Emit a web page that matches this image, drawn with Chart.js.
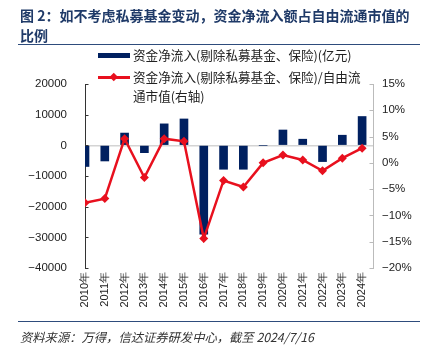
<!DOCTYPE html>
<html><head><meta charset="utf-8">
<script src="https://cdn.jsdelivr.net/npm/chart.js@4/dist/chart.umd.min.js"></script>
<style>
html,body{margin:0;padding:0;background:#fff;}
#wrap{position:relative;width:424px;height:355px;overflow:hidden;font-family:"Noto Sans CJK SC","Liberation Sans",sans-serif;}
#c{position:absolute;left:0;top:0;}
.t{position:absolute;white-space:nowrap;}
#title{left:20px;top:6px;font-size:14px;font-weight:bold;color:#1F3A68;line-height:19.5px;letter-spacing:0px;}
.hr{position:absolute;left:18px;width:402px;height:1.5px;background:#2E4C7C;}
.lg{font-size:12.6px;color:#222;line-height:19px;}
#src{left:20px;top:328px;font-size:12.3px;font-style:italic;color:#333;}
</style></head>
<body><div id="wrap">
<canvas id="c" width="424" height="355"></canvas>
<div class="t" id="title">图 2：如不考虑私募基金变动，资金净流入额占自由流通市值的<br>比例</div>
<div class="hr" style="top:43.5px"></div>
<div class="t" style="left:98px;top:53px;width:32px;height:5px;background:#002060"></div>
<div class="t lg" style="left:133px;top:45px">资金净流入(剔除私募基金、保险)(亿元)</div>
<div class="t" style="left:98px;top:76px;width:32px;height:2.5px;background:#E8101E"></div>
<div class="t" style="left:111px;top:74px;width:5.5px;height:5.5px;background:#E8101E;transform:rotate(45deg)"></div>
<div class="t lg" style="left:133px;top:67px">资金净流入(剔除私募基金、保险)/自由流<br>通市值(右轴)</div>
<div class="hr" style="top:320.5px"></div>
<div class="t" id="src">资料来源：万得，信达证券研发中心，截至 2024/7/16</div>
</div>
<script>
const categories = ["2010年","2011年","2012年","2013年","2014年","2015年","2016年","2017年","2018年","2019年","2020年","2021年","2022年","2023年","2024年"];
const netInflow = [-6900,-5100,4000,-2400,7000,8600,-29000,-7800,-7800,0,5000,2000,-5300,3300,9400];
const inflowRatio = [-7.6,-6.8,4.6,-2.8,4.6,4.1,-14.4,-3.35,-4.6,0.0,1.5,0.55,-1.5,0.9,2.8];
const leftTicks = [-40000,-30000,-20000,-10000,0,10000,20000];
const rightTicks = [-20,-15,-10,-5,0,5,10,15];

const minus = v => (v < 0 ? '\u2212' : '') + Math.abs(v);

const innerTicks = {
  id: 'innerTicks',
  afterDraw(chart) {
    const ctx = chart.ctx;
    const yl = chart.scales.yL, yr = chart.scales.yR;
    ctx.save();
    ctx.lineWidth = 1;
    ctx.strokeStyle = '#333';
    leftTicks.forEach(v => {
      const y = Math.round(yl.getPixelForValue(v)) + 0.5;
      ctx.beginPath(); ctx.moveTo(yl.right, y); ctx.lineTo(yl.right + 3.5, y); ctx.stroke();
    });
    ctx.strokeStyle = '#bbb';
    rightTicks.forEach(v => {
      const y = Math.round(yr.getPixelForValue(v)) + 0.5;
      ctx.beginPath(); ctx.moveTo(yr.left, y); ctx.lineTo(yr.left - 3.5, y); ctx.stroke();
    });
    ctx.restore();
  }
};

new Chart(document.getElementById('c'), {
  type: 'bar',
  data: {
    datasets: [
      {
        type: 'line',
        label: '资金净流入(剔除私募基金、保险)/自由流通市值(右轴)',
        data: inflowRatio.map((v, i) => ({x: i, y: v})),
        yAxisID: 'yR',
        borderColor: '#E8101E',
        backgroundColor: '#E8101E',
        borderWidth: 2.5,
        pointStyle: 'rectRot',
        pointRadius: 4.5,
        pointBorderWidth: 0,
        tension: 0,
        order: 0
      },
      {
        type: 'bar',
        label: '资金净流入(剔除私募基金、保险)(亿元)',
        data: netInflow.map((v, i) => ({x: i, y: v})),
        yAxisID: 'yL',
        backgroundColor: '#002060',
        barThickness: 8,
        clip: 0,
        order: 1
      }
    ]
  },
  options: {
    responsive: false,
    animation: false,
    events: [],
    layout: {padding: {top: 84, left: 0, right: 0, bottom: 0}},
    plugins: {legend: {display: false}, title: {display: false}, tooltip: {enabled: false}},
    scales: {
      x: {
        type: 'linear',
        min: 0,
        max: 14.55,
        offset: false,
        afterBuildTicks: s => { s.ticks = categories.map((c, i) => ({value: i})); },
        afterFit: s => { s.height = 87; },
        grid: {display: false, drawTicks: false},
        border: {display: false},
        ticks: {
          autoSkip: false,
          minRotation: 90,
          maxRotation: 90,
          padding: 4,
          color: '#222',
          font: {family: 'Liberation Sans', size: 11},
          callback: v => categories[v]
        }
      },
      yL: {
        position: 'left',
        min: -40000,
        max: 20000,
        afterBuildTicks: s => { s.ticks = leftTicks.map(v => ({value: v})); },
        afterFit: s => { s.width = 85; },
        grid: {
          drawTicks: false,
          color: c => c.tick && c.tick.value === 0 ? '#d4d4d4' : 'rgba(0,0,0,0)',
          lineWidth: 1.5
        },
        border: {display: true, color: '#333', width: 1},
        ticks: {
          padding: 18,
          color: '#222',
          font: {family: 'Liberation Sans', size: 11.5},
          callback: v => minus(v)
        }
      },
      yR: {
        position: 'right',
        min: -20,
        max: 15,
        afterBuildTicks: s => { s.ticks = rightTicks.map(v => ({value: v})); },
        afterFit: s => { s.width = 51; },
        grid: {display: false, drawTicks: false},
        border: {display: true, color: '#bbb', width: 1},
        ticks: {
          padding: 9,
          color: '#222',
          font: {family: 'Liberation Sans', size: 11.5},
          callback: v => minus(v) + '%'
        }
      }
    }
  },
  plugins: [innerTicks]
});
</script>
</body></html>
